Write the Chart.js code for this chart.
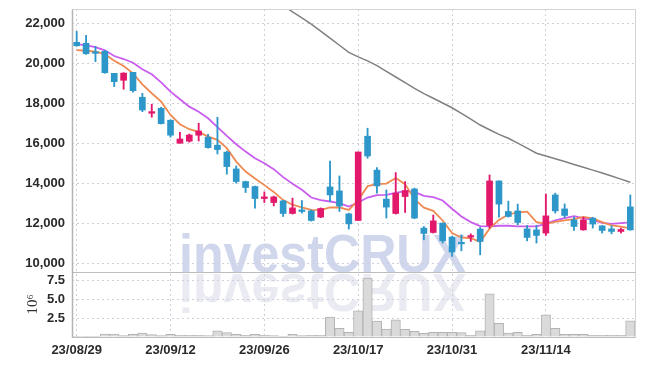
<!DOCTYPE html>
<html lang="en">
<head>
    <meta charset="UTF-8">
    <title>investCRUX daily candles</title>
    <script src="https://cdn.jsdelivr.net/npm/chart.js"></script>
    <style>
        html, body { margin: 0; padding: 0; background: #fff; }
        #chart-container { width: 645px; height: 366px; position: relative; }
    </style>
</head>
<body>
    <div id="chart-container">
        <canvas id="priceChart"></canvas>
    </div>

    <script>
        // trading days (KRX), 23/08/29 .. 23/11/27
        var dates = [
            '23/08/29', '23/08/30', '23/08/31', '23/09/01', '23/09/04', '23/09/05', '23/09/06', '23/09/07', '23/09/08', '23/09/11',
            '23/09/12', '23/09/13', '23/09/14', '23/09/15', '23/09/18', '23/09/19', '23/09/20', '23/09/21', '23/09/22', '23/09/25',
            '23/09/26', '23/09/27', '23/10/04', '23/10/05', '23/10/06', '23/10/10', '23/10/11', '23/10/12', '23/10/13', '23/10/16',
            '23/10/17', '23/10/18', '23/10/19', '23/10/20', '23/10/23', '23/10/24', '23/10/25', '23/10/26', '23/10/27', '23/10/30',
            '23/10/31', '23/11/01', '23/11/02', '23/11/03', '23/11/06', '23/11/07', '23/11/08', '23/11/09', '23/11/10', '23/11/13',
            '23/11/14', '23/11/15', '23/11/16', '23/11/17', '23/11/20', '23/11/21', '23/11/22', '23/11/23', '23/11/24', '23/11/27'
        ];

        var opens = [
            21050, 21000, 20550, 20600, 19500, 19150, 19550, 18300, 17500, 17750,
            17150, 16000, 16100, 16400, 16300, 15900, 15550, 14710, 14080, 13830,
            13230, 13030, 13110, 12480, 12660, 12610, 12300, 13810, 13610, 12460,
            12130, 16350, 14650, 13200, 12480, 13330, 13710, 11750, 11530, 12000,
            11300, 11030, 11300, 11700, 11880, 14110, 12580, 12610, 11710, 11660,
            11500, 13410, 12710, 12160, 11660, 12250, 11860, 11710, 11580, 12810
        ];
        var highs = [
            21600, 21400, 20850, 20650, 19500, 19530, 19550, 18500, 17950, 17800,
            17170, 16550, 16460, 17000, 16450, 17300, 15600, 14860, 14100, 13850,
            13560, 13350, 13140, 13250, 13130, 12660, 12760, 15110, 14360, 12500,
            15560, 16750, 14780, 13660, 14530, 14080, 13750, 11830, 12400, 12000,
            11330, 11410, 11460, 11780, 14410, 14110, 13100, 12950, 11880, 11880,
            13460, 13500, 12960, 12300, 12300, 12280, 11880, 11860, 11750, 13410
        ];
        var lows = [
            20850, 20450, 20080, 19500, 18830, 18700, 18550, 17580, 17300, 16960,
            16300, 16000, 16050, 16110, 15750, 15460, 14450, 14000, 13530, 12750,
            13030, 12860, 12330, 12450, 12500, 12100, 12270, 13080, 12580, 11700,
            12130, 15250, 13500, 12250, 12450, 12530, 12220, 11160, 11500, 11000,
            10330, 10610, 11080, 10410, 11750, 12300, 12300, 11910, 11110, 11000,
            11380, 12500, 12280, 11630, 11640, 11750, 11500, 11460, 11500, 11640
        ];
        var closes = [
            20880, 20480, 20500, 19530, 19080, 19510, 18630, 17660, 17580, 16980,
            16400, 16210, 16410, 16610, 15780, 15680, 14830, 14080, 13780, 13230,
            13310, 13310, 12480, 12760, 12580, 12130, 12730, 13410, 12850, 11960,
            15560, 15360, 13860, 12800, 13500, 13630, 12250, 11480, 12110, 11110,
            10550, 10960, 11360, 11080, 14110, 12950, 12330, 12030, 11280, 11380,
            12360, 12610, 12380, 11830, 12160, 11950, 11630, 11580, 11680, 11660
        ];

        // moving averages
        var ma5 = [
            20665, 20630, 20580, 20465, 20130, 19865, 19500, 18950, 18500, 18080,
            17415, 16950, 16700, 16565, 16330, 16165, 15750, 15080, 14580, 14230,
            13900, 13560, 13150, 12920, 12780, 12665, 12650, 12780, 12790, 12660,
            13150, 13850, 13950, 13980, 14260, 13950, 13200, 12770, 12610, 12130,
            11500, 11280, 11240, 11060, 11720, 12160, 12430, 12530, 12570, 12050,
            11960, 12060, 12140, 12200, 12310, 12230, 12050, 11890, 11820, 11730
        ];
        var ma20 = [
            20965, 20900, 20815, 20650, 20365, 20215, 20030, 19700, 19450, 19050,
            18580, 18200, 17830, 17580, 17250, 16800, 16365, 15950, 15580, 15250,
            15000, 14700, 14300, 13965, 13665, 13280, 13150, 13080, 13000, 12830,
            13030, 13280, 13400, 13415, 13515, 13600, 13565, 13365, 13300, 13130,
            12715, 12330, 12050, 11850, 11830, 11865, 11865, 11830, 11830, 11830,
            11965, 12130, 12250, 12350, 12250, 12165, 12015, 11965, 12000, 12030
        ];
        var ma120 = [
            null, null, null, null, null, null, null, null, null, null,
            null, null, null, null, null, null, null, null, null, null,
            null, 23215, 22905, 22580, 22275, 21965, 21610, 21260, 20905, 20550,
            20325, 20120, 19885, 19600, 19315, 19030, 18750, 18485, 18250, 18015,
            17775, 17490, 17200, 16910, 16675, 16440, 16245, 16005, 15755, 15500,
            15360, 15220, 15080, 14935, 14795, 14650, 14510, 14355, 14200, 14045
        ];

        var volumes = [
            100000, 100000, 100000, 400000, 400000, 180000, 350000, 530000, 310000, 180000,
            350000, 220000, 220000, 220000, 200000, 800000, 580000, 350000, 220000, 350000,
            220000, 180000, 60000, 350000, 180000, 220000, 220000, 2620000, 1150000, 620000,
            3460000, 7800000, 2090000, 1060000, 2260000, 1020000, 750000, 490000, 620000, 620000,
            620000, 580000, 220000, 800000, 5720000, 1820000, 530000, 620000, 220000, 350000,
            2930000, 1150000, 350000, 350000, 350000, 220000, 220000, 220000, 220000, 2130000
        ];

        var priceTicks = [10000, 12000, 14000, 16000, 18000, 20000, 22000];
        var volumeTicks = [0, 2500000, 5000000, 7500000];

        var upColor = '#e2186b';
        var downColor = '#2e97c9';
        var gridColor = '#cfd0dc';
        var tickFont = { family: '"Liberation Sans", Arial, sans-serif', size: 13, weight: 'bold' };

        var candleColors = opens.map((o, i) => (closes[i] > o ? upColor : downColor));

        // watermark + reflection, drawn under everything
        var watermark = {
            id: 'watermark',
            beforeDraw(chart) {
                var ctx = chart.ctx;
                var base = chart.scales.y.bottom;
                ctx.save();
                ctx.font = 'bold 53px "Liberation Sans", sans-serif';
                ctx.textBaseline = 'alphabetic';
                ctx.fillStyle = 'rgba(150,165,212,0.45)';
                ctx.fillText('investCRUX', 179, base, 287);
                ctx.translate(0, base * 2 + 2);
                ctx.scale(1, -1);
                ctx.fillStyle = 'rgba(170,176,204,0.25)';
                ctx.fillText('investCRUX', 179, base, 287);
                ctx.restore();
            }
        };

        // frame around both panes
        var frame = {
            id: 'frame',
            afterDraw(chart) {
                var ctx = chart.ctx;
                var a = chart.chartArea;
                var sep = Math.round(chart.scales.y.bottom) + 0.5;
                var l = Math.round(a.left) + 0.5, r = Math.round(a.right) + 0.5;
                var t = Math.round(a.top) + 0.5, b = Math.round(a.bottom) + 0.5;
                ctx.save();
                ctx.lineWidth = 1;
                ctx.strokeStyle = '#d4d4d4';
                ctx.beginPath(); ctx.moveTo(l, t); ctx.lineTo(r, t); ctx.lineTo(r, b); ctx.stroke();
                ctx.strokeStyle = '#bdbdbd';
                ctx.beginPath(); ctx.moveTo(l, sep); ctx.lineTo(r, sep); ctx.stroke();
                ctx.beginPath(); ctx.moveTo(l, b); ctx.lineTo(r, b); ctx.stroke();
                ctx.strokeStyle = '#b4b4b4';
                ctx.lineWidth = 1.5;
                ctx.beginPath(); ctx.moveTo(l, t); ctx.lineTo(l, b); ctx.stroke();
                ctx.restore();
            }
        };

        function fixLeftAxis(s) {
            s.width = 72;
            s.paddingTop = 0;
            s.paddingBottom = 0;
        }

        var ctx = document.getElementById('priceChart').getContext('2d');
        var priceChart = new Chart(ctx, {
            type: 'bar',
            data: {
                labels: dates,
                datasets: [
                    {
                        label: 'body',
                        data: opens.map((o, i) => [o, closes[i]]),
                        backgroundColor: candleColors,
                        barThickness: 6,
                        minBarLength: 1.5,
                        grouped: false,
                        yAxisID: 'y',
                        order: 0
                    },
                    {
                        label: 'wick',
                        data: lows.map((lo, i) => [lo, highs[i]]),
                        backgroundColor: candleColors,
                        barThickness: 1.2,
                        grouped: false,
                        yAxisID: 'y',
                        order: 1
                    },
                    {
                        type: 'line',
                        label: 'MA5',
                        data: ma5,
                        borderColor: '#ef8a52',
                        borderWidth: 1.8,
                        pointRadius: 0,
                        yAxisID: 'y',
                        order: 2
                    },
                    {
                        type: 'line',
                        label: 'MA20',
                        data: ma20,
                        borderColor: '#c95ded',
                        borderWidth: 1.8,
                        pointRadius: 0,
                        yAxisID: 'y',
                        order: 3
                    },
                    {
                        type: 'line',
                        label: 'MA120',
                        data: ma120,
                        borderColor: '#808080',
                        borderWidth: 1.5,
                        pointRadius: 0,
                        yAxisID: 'y',
                        order: 4
                    },
                    {
                        label: 'Volume',
                        data: volumes,
                        backgroundColor: '#dadada',
                        borderColor: '#b3b3b3',
                        borderWidth: 1,
                        barPercentage: 1,
                        categoryPercentage: 1,
                        grouped: false,
                        yAxisID: 'vol',
                        order: 5
                    }
                ]
            },
            options: {
                responsive: true,
                maintainAspectRatio: false,
                animation: false,
                layout: { padding: { top: 9, right: 10, left: 0, bottom: 0 } },
                plugins: {
                    legend: { display: false },
                    tooltip: { enabled: false }
                },
                scales: {
                    x: {
                        type: 'category',
                        offset: true,
                        grid: {
                            offset: false,
                            drawTicks: false,
                            color: c => (c.index % 10 === 0 ? gridColor : 'rgba(0,0,0,0)')
                        },
                        border: { display: false, dash: [2, 3] },
                        ticks: {
                            autoSkip: false,
                            maxRotation: 0,
                            padding: 6,
                            color: '#2a2a2a',
                            font: tickFont,
                            callback: (v, i) => (i % 10 === 0 ? dates[i] : '')
                        },
                        afterFit: s => { s.height = 29; }
                    },
                    vol: {
                        position: 'left',
                        stack: 'panes',
                        stackWeight: 65,
                        min: 0,
                        max: 8600000,
                        grid: { color: gridColor, drawTicks: false },
                        border: { display: false, dash: [2, 3] },
                        ticks: {
                            autoSkip: false,
                            padding: 7,
                            color: '#2a2a2a',
                            font: tickFont,
                            callback: v => (v === 0 ? '' : (v / 1e6).toFixed(1))
                        },
                        afterBuildTicks: s => { s.ticks = volumeTicks.map(v => ({ value: v })); },
                        title: {
                            display: true,
                            text: '10⁶',
                            color: '#333',
                            font: { family: '"Liberation Serif", serif', size: 15 },
                            padding: { top: 24, bottom: 0 }
                        },
                        afterFit: fixLeftAxis
                    },
                    y: {
                        position: 'left',
                        stack: 'panes',
                        stackWeight: 263,
                        min: 9550,
                        max: 22720,
                        grid: { color: gridColor, drawTicks: false },
                        border: { display: false, dash: [2, 3] },
                        ticks: {
                            autoSkip: false,
                            padding: 7,
                            color: '#2a2a2a',
                            font: tickFont,
                            callback: v => v.toLocaleString('en-US')
                        },
                        afterBuildTicks: s => { s.ticks = priceTicks.map(v => ({ value: v })); },
                        afterFit: fixLeftAxis
                    }
                }
            },
            plugins: [watermark, frame]
        });
    </script>
</body>
</html>
